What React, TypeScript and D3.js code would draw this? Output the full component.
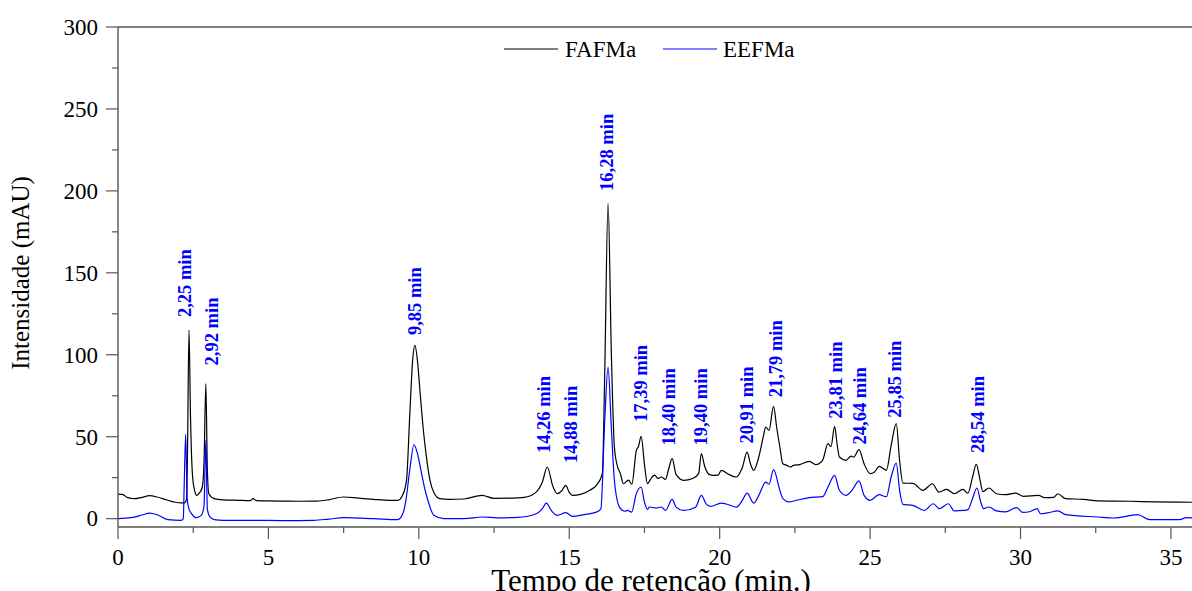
import React from "react";
import * as d3 from "d3";

const W = 1192;
const H = 591;
const margin = { left: 118, top: 27, right: 0, bottom: 64 };

const xDomain: [number, number] = [0, 35.7];
const yDomain: [number, number] = [-5.1, 300];
const xMajorTicks = [0, 5, 10, 15, 20, 25, 30, 35];
const xMinorTicks = [2.5, 7.5, 12.5, 17.5, 22.5, 27.5, 32.5];
const yMajorTicks = [0, 50, 100, 150, 200, 250, 300];
const yMinorTicks = [25, 75, 125, 175, 225, 275];

const seriesNames = ["FAFMa", "EEFMa"];
const seriesColors = ["#000000", "#0000ff"];

// [time (min), intensity (mAU)]
const fafma: [number, number][] = [
  [0, 15], [0.15, 14.8], [0.3, 13], [0.55, 12.2], [0.8, 13], [1.05, 14], [1.3, 13.2], [1.6, 11.5],
  [1.9, 10], [2.1, 9.6], [2.22, 9.6], [2.28, 12], [2.31, 40], [2.36, 115], [2.41, 62], [2.48, 25.4],
  [2.55, 17], [2.62, 14.2], [2.72, 16], [2.8, 19], [2.86, 35], [2.92, 82.4], [2.97, 30], [3.02, 15.2],
  [3.2, 12.2], [3.5, 11.5], [4.0, 11.2], [4.4, 11.0], [4.49, 12.2], [4.6, 11.0], [5.0, 10.8],
  [5.5, 10.7], [6.0, 10.6], [6.6, 10.7], [7.0, 11.5], [7.5, 13.2], [8.0, 12.5], [8.5, 11.8],
  [9.0, 11.2], [9.3, 11.2], [9.45, 14], [9.59, 23.4], [9.7, 64], [9.8, 98], [9.87, 105.7],
  [9.95, 97], [10.05, 75], [10.14, 55.9], [10.25, 38], [10.37, 23.4], [10.5, 16], [10.7, 12.2],
  [11.0, 11.8], [11.5, 12], [12.1, 14.2], [12.5, 12.4], [13.0, 12.5], [13.5, 13], [13.9, 16.2],
  [14.1, 22], [14.27, 31.5], [14.45, 20], [14.6, 15.2], [14.75, 17], [14.88, 20.3], [15.0, 16],
  [15.1, 14.2], [15.4, 15], [15.7, 17.5], [15.9, 20.3], [16.1, 27.5], [16.18, 90], [16.29, 192.6],
  [16.4, 100], [16.5, 43.7], [16.6, 32], [16.7, 27.5], [16.8, 21.3], [16.97, 23.5], [17.08, 21],
  [17.23, 41.7], [17.3, 44], [17.39, 50.2], [17.5, 33], [17.6, 21.3], [17.7, 24], [17.84, 26.5],
  [17.95, 24.5], [18.06, 25.4], [18.2, 24], [18.3, 30], [18.42, 36.6], [18.55, 27], [18.8, 23.4],
  [19.1, 24.5], [19.3, 27.5], [19.39, 39.7], [19.5, 32], [19.65, 27], [19.8, 26.4], [19.95, 26.5],
  [20.05, 29.5], [20.3, 27], [20.55, 25.4], [20.75, 31], [20.91, 40.6], [21.03, 33], [21.13, 29.5],
  [21.3, 37.6], [21.45, 50], [21.53, 55.9], [21.64, 53.8], [21.79, 68.5], [21.9, 55], [22.0, 43.7],
  [22.1, 33.5], [22.23, 32.5], [22.35, 31.5], [22.45, 32.5], [22.66, 33], [22.98, 35], [23.2, 33],
  [23.42, 35.6], [23.6, 45.8], [23.7, 44], [23.82, 56.3], [23.9, 46], [23.98, 37.6], [24.2, 35.6],
  [24.37, 38.2], [24.45, 37.5], [24.63, 42.1], [24.8, 33.5], [25.0, 27.5], [25.15, 28.5],
  [25.3, 31.9], [25.54, 29.5], [25.7, 44.7], [25.87, 58], [25.98, 35.6], [26.09, 21.7],
  [26.42, 21.5], [26.76, 17.3], [27.07, 21.3], [27.29, 16.2], [27.54, 17.9], [27.8, 15.2],
  [28.09, 17.9], [28.25, 15.5], [28.4, 25], [28.53, 33.1], [28.65, 24], [28.75, 16.5],
  [28.95, 18.7], [29.2, 15.2], [29.5, 14.6], [29.84, 15.6], [30.1, 13.6], [30.6, 14.2],
  [30.8, 12.8], [31.1, 13], [31.24, 15.2], [31.5, 12.2], [32.1, 11.8], [32.56, 10.8],
  [33.67, 10.6], [34.5, 10.2], [35.7, 10],
];

const eefma: [number, number][] = [
  [0, 0], [0.44, 0.6], [0.8, 2.2], [1.05, 3.4], [1.3, 2.4], [1.66, -0.6], [2.1, -1], [2.17, 0],
  [2.2, 20], [2.25, 51.4], [2.3, 12], [2.36, 6], [2.44, 3.2], [2.6, 0.6], [2.77, 2], [2.86, 8],
  [2.92, 48], [2.97, 6], [3.05, 1.2], [3.2, -0.6], [3.5, -1], [4.5, -1], [5.5, -1.2], [6.5, -1],
  [7.0, -0.3], [7.5, 0.6], [8.5, 0], [9.3, -0.6], [9.47, 3.1], [9.57, 11.2], [9.7, 30], [9.84, 45.1],
  [9.95, 40], [10.07, 29.5], [10.2, 18], [10.3, 11.2], [10.5, 2], [10.82, 0], [11.5, 0], [12.12, 1],
  [12.6, 0.5], [13.3, 0.8], [13.9, 3], [14.1, 6], [14.24, 9.5], [14.4, 5], [14.6, 2], [14.89, 3.7],
  [15.1, 1.4], [15.5, 2.5], [15.9, 4], [16.05, 6], [16.18, 60], [16.29, 92.5], [16.4, 55],
  [16.5, 23.4], [16.67, 7], [16.85, 4.5], [16.93, 5], [17.07, 4], [17.23, 15.2], [17.39, 19.3],
  [17.5, 10], [17.6, 5.7], [17.67, 7.1], [17.9, 6.5], [18.06, 7.1], [18.2, 5], [18.42, 11.8],
  [18.55, 7], [18.8, 5], [19.2, 7], [19.39, 14.2], [19.55, 9], [19.7, 7.5], [20.05, 9.5],
  [20.3, 8.5], [20.55, 7], [20.75, 11], [20.91, 15.6], [21.13, 9.5], [21.3, 14.2], [21.53, 22.3],
  [21.64, 21], [21.79, 29.9], [22.0, 17.3], [22.1, 12.2], [22.3, 10.2], [22.55, 11.2],
  [22.98, 12.8], [23.42, 13.4], [23.6, 19.3], [23.82, 26.4], [23.98, 17.3], [24.2, 14.2],
  [24.4, 17.3], [24.63, 23], [24.8, 14.2], [25.0, 11.2], [25.3, 14.6], [25.54, 13.4], [25.7, 25.4],
  [25.87, 33.9], [25.98, 17.3], [26.09, 8.7], [26.42, 8.1], [26.8, 5], [27.1, 9.1], [27.3, 6.1],
  [27.6, 9.1], [27.8, 4.7], [28.13, 5], [28.25, 5.5], [28.4, 12], [28.55, 18.7], [28.68, 10],
  [28.77, 6.1], [28.95, 7.1], [29.2, 4.7], [29.5, 4.1], [29.87, 6.7], [30.08, 3.8], [30.3, 4.2],
  [30.55, 6.1], [30.67, 3], [30.9, 3.5], [31.24, 4.7], [31.5, 2.4], [32.56, 1], [33.1, 0.4],
  [33.9, 2.4], [34.3, -0.6], [35.3, -0.6], [35.5, 0.6], [35.7, 0.5],
];

// peak annotations: label, x position (min), y of label start (mAU)
const peakLabels = ["2,25 min", "2,92 min", "9,85 min", "14,26 min", "14,88 min", "16,28 min", "17,39 min", "18,40 min", "19,40 min", "20,91 min", "21,79 min", "23,81 min", "24,64 min", "25,85 min", "28,54 min"];
const peakLabelX = [2.21, 3.11, 9.87, 14.16, 15.04, 16.23, 17.38, 18.31, 19.36, 20.91, 21.85, 23.86, 24.67, 25.82, 28.58];
const peakLabelY = [123, 93.5, 112, 40, 34, 200, 59, 44.7, 44.7, 45.8, 74, 61, 45.3, 61.6, 40];

const serif = "Liberation Serif, Times New Roman, serif";
const textStyle: React.CSSProperties = { fontFamily: serif };

export default function App() {
  const x = d3.scaleLinear().domain(xDomain).range([margin.left, W - margin.right]);
  const y = d3.scaleLinear().domain(yDomain).range([H - margin.bottom, margin.top]);
  const line = d3
    .line<[number, number]>()
    .x((d) => x(d[0]))
    .y((d) => y(d[1]))
    .curve(d3.curveMonotoneX);

  const x0 = x(xDomain[0]);
  const x1 = x(xDomain[1]);
  const yb = y(yDomain[0]);
  const yt = y(yDomain[1]);
  const axisColor = "#555";

  const series = [fafma, eefma];

  return (
    <svg
      width={W}
      height={H}
      style={{ position: "fixed", left: 0, top: 0, display: "block", background: "#fff", fontFamily: serif }}
    >
      <defs>
        <clipPath id="plotClip">
          <rect x={x0} y={yt} width={x1 - x0} height={yb - yt} />
        </clipPath>
      </defs>

      {/* data lines */}
      <g clipPath="url(#plotClip)">
        {series.map((s, i) => (
          <path key={i} d={line(s) || ""} fill="none" stroke={seriesColors[i]} strokeWidth={1.2} strokeLinejoin="round" />
        ))}
      </g>

      {/* frame */}
      <line x1={x0} x2={x1} y1={yt} y2={yt} stroke={axisColor} strokeWidth={1.4} />
      <line x1={x0} x2={x0} y1={yt} y2={yb} stroke={axisColor} strokeWidth={1.4} />
      <line x1={x0} x2={x1} y1={yb} y2={yb} stroke={axisColor} strokeWidth={1.4} />

      {/* y ticks */}
      {yMajorTicks.map((t) => (
        <g key={"ym" + t}>
          <line x1={x0 - 12} x2={x0} y1={y(t)} y2={y(t)} stroke={axisColor} strokeWidth={1.2} />
          <text x={x0 - 20} y={y(t)} dy="0.34em" textAnchor="end" fontSize={23} fill="#000" style={textStyle}>
            {t}
          </text>
        </g>
      ))}
      {yMinorTicks.map((t) => (
        <line key={"yn" + t} x1={x0 - 6} x2={x0} y1={y(t)} y2={y(t)} stroke={axisColor} strokeWidth={1.2} />
      ))}

      {/* x ticks */}
      {xMajorTicks.map((t) => (
        <g key={"xm" + t}>
          <line x1={x(t)} x2={x(t)} y1={yb} y2={yb + 12} stroke={axisColor} strokeWidth={1.2} />
          <text x={x(t)} y={565} textAnchor="middle" fontSize={23} fill="#000" style={textStyle}>
            {t}
          </text>
        </g>
      ))}
      {xMinorTicks.map((t) => (
        <line key={"xn" + t} x1={x(t)} x2={x(t)} y1={yb} y2={yb + 6} stroke={axisColor} strokeWidth={1.2} />
      ))}

      {/* axis titles */}
      <text x={651} y={591} textAnchor="middle" fontSize={31} fill="#000" style={textStyle}>
        Tempo de retenção (min.)
      </text>
      <text transform={`translate(29, 273) rotate(-90)`} textAnchor="middle" fontSize={25} fill="#000" style={textStyle}>
        Intensidade (mAU)
      </text>

      {/* legend */}
      <line x1={504} x2={558} y1={49} y2={49} stroke={seriesColors[0]} strokeWidth={1.2} />
      <text x={565} y={57} fontSize={23} fill="#000" style={textStyle}>{seriesNames[0]}</text>
      <line x1={663} x2={717} y1={49} y2={49} stroke={seriesColors[1]} strokeWidth={1.2} />
      <text x={723} y={57} fontSize={23} fill="#000" style={textStyle}>{seriesNames[1]}</text>

      {/* peak labels */}
      {peakLabels.map((lab, i) => (
        <text
          key={lab}
          transform={`translate(${x(peakLabelX[i])}, ${y(peakLabelY[i])}) rotate(-90)`}
          dy="0.34em"
          fontSize={18.5}
          fontWeight="bold"
          fill="#0000ff"
          style={textStyle}
        >
          {lab}
        </text>
      ))}
    </svg>
  );
}
